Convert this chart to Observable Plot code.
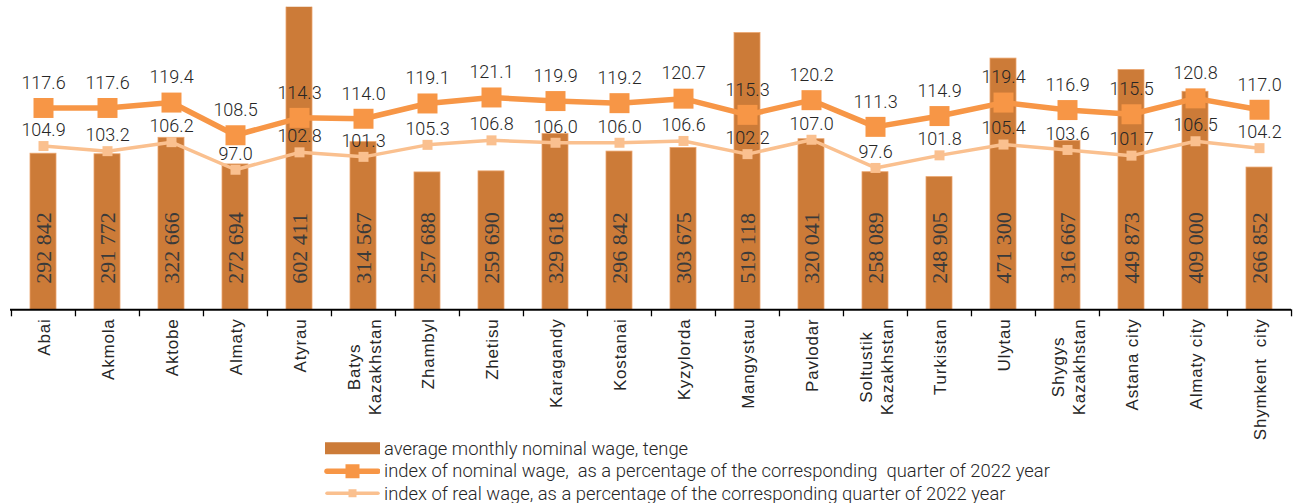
<!DOCTYPE html>
<html><head><meta charset="utf-8">
<script src="https://cdn.jsdelivr.net/npm/d3@7"></script>
<script src="https://cdn.jsdelivr.net/npm/@observablehq/plot@0.6"></script>
<style>
body{margin:0;background:#fff;}
#chart{position:relative;width:1299px;height:503px;background:#fff;overflow:hidden;}
g[font-family="Liberation Sans"] text{letter-spacing:0.8px;}
#legend{position:absolute;left:323px;top:437px;font:300 18.4px Roboto, sans-serif;color:#262626;}
.row{display:flex;align-items:center;height:22.5px;white-space:pre;}
.row svg{margin-right:4px;flex:none;}
</style></head><body><div id="chart"></div>
<script>
const regions = ["Abai","Akmola","Aktobe","Almaty","Atyrau","Batys\nKazakhstan","Zhambyl","Zhetisu","Karagandy","Kostanai","Kyzylorda","Mangystau","Pavlodar","Soltustik\nKazakhstan","Turkistan","Ulytau","Shygys\nKazakhstan","Astana city","Almaty city","Shymkent  city"];
const wages = [292842,291772,322666,272694,602411,314567,257688,259690,329618,296842,303675,519118,320041,258089,248905,471300,316667,449873,409000,266852];
const nominalIndex = [117.6,117.6,119.4,108.5,114.3,114.0,119.1,121.1,119.9,119.2,120.7,115.3,120.2,111.3,114.9,119.4,116.9,115.5,120.8,117.0];
const realIndex = [104.9,103.2,106.2,97.0,102.8,101.3,105.3,106.8,106.0,106.0,106.6,102.2,107.0,97.6,101.8,105.4,103.6,101.7,106.5,104.2];
const legendLabels = ["average monthly nominal wage, tenge","index of nominal wage,  as a percentage of the corresponding  quarter of 2022 year","index of real wage, as a percentage of the corresponding quarter of 2022 year"];
const colors = {bar:"#CC7B38", nominal:"#F79646", real:"#FAC08F"};

const W=1299, H=437, mL=10, mR=8, mT=6.7, mB=127.7;
const yMax = 567700;
const idxToWage = d3.scaleLinear([50.3,151.2],[0,yMax]);
const pxPerUnit = (H-mT-mB)/yMax;
const data = regions.map((r,i)=>({region:r, wage:wages[i], nom:nominalIndex[i], real:realIndex[i]}));
const bw = (W-mL-mR)/regions.length;
const fmtWage = d3.formatLocale({thousands:" ", grouping:[3], decimal:".", currency:["",""]}).format(",d");
const catSize = 17, ls = 0.8;
const ctx = document.createElement("canvas").getContext("2d");
ctx.font = catSize + "px 'Liberation Sans'";
const tw = s => ctx.measureText(s).width + s.length*ls;
const catY = r => -(8.7 + d3.max(r.split("\n"), tw)/2)/pxPerUnit;

const plot = Plot.plot({
  width:W, height:H, marginLeft:mL, marginRight:mR, marginTop:mT, marginBottom:mB,
  x:{domain:regions, padding:0, axis:null},
  y:{domain:[0,yMax], axis:null},
  style:{background:"#fff", overflow:"visible"},
  marks:[
    Plot.barY(data,{x:"region", y:"wage", fill:colors.bar, stroke:"#EBA46C", strokeWidth:0.8, insetLeft:19, insetRight:19, clip:true}),
    Plot.text(data,{x:"region", y:0, text:d=>fmtWage(d.wage), rotate:-90, textAnchor:"start", dy:-26, fontSize:22, fontFamily:"Liberation Sans Narrow", fill:"#3a3a3a"}),
    Plot.ruleY([0],{stroke:"#000", strokeWidth:2}),
    Plot.ruleX(regions,{x:d=>d, y1:0, y2:0, insetBottom:-7, dx:-bw/2, stroke:"#000", strokeWidth:1.3}),
    Plot.ruleX(regions.slice(-1),{x:d=>d, y1:0, y2:0, insetBottom:-7, dx:bw/2, stroke:"#000", strokeWidth:1.3}),
    Plot.line(data,{x:"region", y:d=>idxToWage(d.real), stroke:colors.real, strokeWidth:3.5}),
    Plot.dot(data,{x:"region", y:d=>idxToWage(d.real), symbol:"square", r:5.64, fill:colors.real}),
    Plot.line(data,{x:"region", y:d=>idxToWage(d.nom), stroke:colors.nominal, strokeWidth:5.5}),
    Plot.dot(data,{x:"region", y:d=>idxToWage(d.nom), symbol:"square", r:11.28, fill:colors.nominal}),
    Plot.text(data,{x:"region", y:d=>idxToWage(d.real), text:d=>d.real.toFixed(1), dy:-16, fontSize:18, fontWeight:300, fontFamily:"Roboto", fill:"#262626"}),
    Plot.text(data,{x:"region", y:d=>idxToWage(d.nom), text:d=>d.nom.toFixed(1), dy:-25, fontSize:18, fontWeight:300, fontFamily:"Roboto", fill:"#262626"}),
    Plot.text(data,{x:"region", y:d=>catY(d.region), text:"region", rotate:-90, textAnchor:"middle", lineHeight:1.25, fontSize:catSize, fontFamily:"Liberation Sans", fill:"#262626"})
  ]
});
const chart = document.getElementById("chart");
chart.appendChild(plot);

const legend = d3.select(chart).append("div").attr("id","legend");
legendLabels.forEach((lab,i)=>{
  const row = legend.append("div").attr("class","row");
  const s = row.append("svg").attr("width",57).attr("height",22.5);
  if(i===0){
    s.append("rect").attr("x",2).attr("y",5.25).attr("width",55).attr("height",12).attr("fill",colors.bar);
  } else {
    const c = i===1?colors.nominal:colors.real, sw = i===1?5.5:3.5, sq = i===1?14:8;
    s.append("line").attr("x1",4).attr("x2",55).attr("y1",11.25).attr("y2",11.25).attr("stroke",c).attr("stroke-width",sw).attr("stroke-linecap","round");
    s.append("rect").attr("x",29.5-sq/2).attr("y",11.25-sq/2).attr("width",sq).attr("height",sq).attr("fill",c);
  }
  row.append("span").text(lab);
});
</script></body></html>
